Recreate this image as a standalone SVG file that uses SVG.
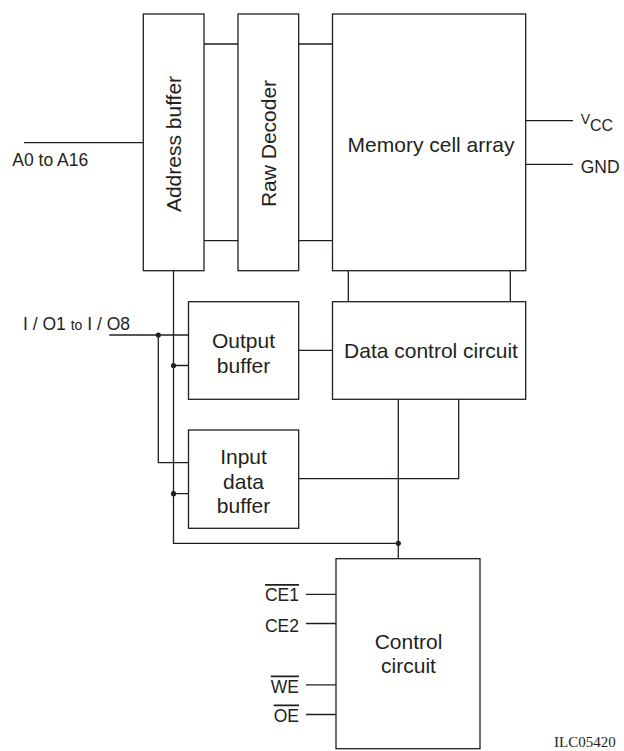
<svg xmlns="http://www.w3.org/2000/svg" width="624" height="751" viewBox="0 0 624 751">
<style>
.box{fill:#fff;stroke:#231f20;stroke-width:1.3}
.ln{fill:none;stroke:#231f20;stroke-width:1.3}
.t{font-family:"Liberation Sans",Arial,sans-serif;font-size:21px;fill:#231f20}
.s{font-family:"Liberation Sans",Arial,sans-serif;font-size:17.5px;fill:#231f20}
.c{text-anchor:middle}
.r{text-anchor:end}
.dot{fill:#231f20}
</style>
<g id="connectors">
  <path class="ln" d="M24,142.7H143.3"/>
  <path class="ln" d="M204,44H238M204,240.7H238"/>
  <path class="ln" d="M298.7,44H332.5M298.7,240.7H332.5"/>
  <path class="ln" d="M525.7,120.7H573M525.7,164.3H573"/>
  <path class="ln" d="M348.3,270.7V301.7M510.3,270.7V301.7"/>
  <path class="ln" d="M173.5,270.7V543.3H398.3"/>
  <path class="ln" d="M109.3,335H188.5"/>
  <path class="ln" d="M158.3,335V462.7H188.5"/>
  <path class="ln" d="M173.5,365.5H188.5M173.5,493.7H188.5"/>
  <path class="ln" d="M298.7,350.3H332.5"/>
  <path class="ln" d="M298.7,478.7H458.7V399.3"/>
  <path class="ln" d="M398.3,399.3V558.7"/>
  <path class="ln" d="M306,594.3H336M306,623.5H336M306,684.8H336M306,714.5H336"/>
  <circle class="dot" cx="158.3" cy="335" r="2.6"/>
  <circle class="dot" cx="173.5" cy="365.5" r="2.6"/>
  <circle class="dot" cx="173.5" cy="493.7" r="2.6"/>
  <circle class="dot" cx="398.3" cy="543.3" r="2.6"/>
</g>
<g id="address-buffer">
  <rect class="box" x="143.3" y="14" width="60.7" height="256.7"/>
  <text class="t c" transform="translate(181,144) rotate(-90)">Address buffer</text>
</g>
<g id="raw-decoder">
  <rect class="box" x="238" y="14" width="60.7" height="256.7"/>
  <text class="t c" transform="translate(276,143.5) rotate(-90)">Raw Decoder</text>
</g>
<g id="memory-cell-array">
  <rect class="box" x="332.5" y="14" width="193.2" height="256.7"/>
  <text class="t c" x="431" y="152">Memory cell array</text>
</g>
<g id="output-buffer">
  <rect class="box" x="188.5" y="301.7" width="110.2" height="97.6"/>
  <text class="t c" x="243.5" y="348.3">Output</text>
  <text class="t c" x="243.5" y="372.7">buffer</text>
</g>
<g id="data-control-circuit">
  <rect class="box" x="332.5" y="301.7" width="193.2" height="97.6"/>
  <text class="t c" x="431" y="358">Data control circuit</text>
</g>
<g id="input-data-buffer">
  <rect class="box" x="188.5" y="430" width="110.2" height="98.3"/>
  <text class="t c" x="243.5" y="463.5">Input</text>
  <text class="t c" x="243.5" y="488.5">data</text>
  <text class="t c" x="243.5" y="513.3">buffer</text>
</g>
<g id="control-circuit">
  <rect class="box" x="336" y="558.7" width="144" height="190"/>
  <text class="t c" x="408.5" y="649">Control</text>
  <text class="t c" x="408.5" y="673.3">circuit</text>
</g>
<g id="labels">
  <text class="s" x="12.3" y="166">A0 to A16</text>
  <text class="s" x="23" y="330">I / O1 <tspan font-size="14">to</tspan> I / O8</text>
  <text class="s" x="580.7" y="124"><tspan font-size="14">V</tspan><tspan font-size="16" dy="7">CC</tspan></text>
  <text class="s" x="580.7" y="173">GND</text>
  <text class="s r" x="299" y="601" text-decoration="overline">CE1</text>
  <text class="s r" x="299" y="631.5">CE2</text>
  <text class="s r" x="299" y="692.5" text-decoration="overline">WE</text>
  <text class="s r" x="299" y="721.5" text-decoration="overline">OE</text>
  <text x="554" y="747" font-family="'Liberation Serif','Times New Roman',serif" font-size="15" fill="#231f20">ILC05420</text>
</g>
</svg>
